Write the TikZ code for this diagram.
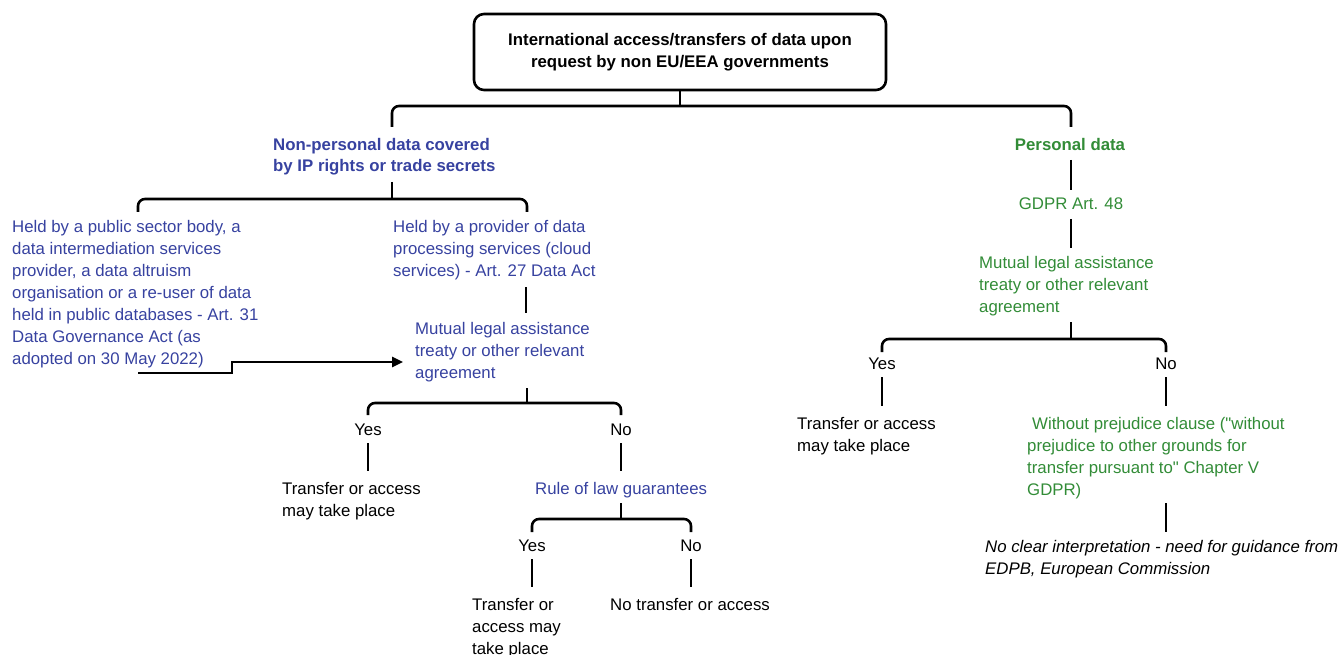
\documentclass[tikz,border=0pt]{standalone}
\usepackage{fontspec}
\setmainfont{Liberation Sans}
\usetikzlibrary{arrows.meta}
\definecolor{npblue}{RGB}{55,66,160}
\definecolor{pgreen}{RGB}{50,140,55}
\begin{document}
\begin{tikzpicture}[x=1pt,y=-1pt,
  txt/.style={inner sep=0pt, font=\fontsize{16.8}{22}\selectfont, align=left, anchor=north west},
  ctxt/.style={txt, anchor=north},
  npb/.style={text=npblue},
  pgr/.style={text=pgreen},
  bold/.style={font=\bfseries\fontsize{16.8}{21.5}\selectfont},
  ln/.style={line width=2.6pt},
  brk/.style={line width=2.6pt, rounded corners=7pt}]
\useasboundingbox (0,0) rectangle (1344,655);

% top box
\node[draw, line width=2.6pt, rounded corners=10pt, minimum width=412pt, minimum height=76pt,
      align=center, inner sep=0pt, font=\bfseries\fontsize{16.8}{21.5}\selectfont] (top) at (680,52)
  {International access/transfers of data upon\\request by non EU/EEA governments};

% text nodes, left branch
\node[txt, npb, bold] (np) at (273,138) {Non-personal data covered\\by IP rights or trade secrets};
\node[txt, npb] (held1) at (12,220) {Held by a public sector body, a\\data intermediation services\\provider, a data altruism\\organisation or a re-user of data\\held in public databases - Art. 31\\Data Governance Act (as\\adopted on 30 May 2022)};
\node[txt, npb] (held2) at (393,220) {Held by a provider of data\\processing services (cloud\\services) - Art. 27 Data Act};
\node[txt, npb] (mlaL) at (415,322) {Mutual legal assistance\\treaty or other relevant\\agreement};
\node[ctxt] (yesL) at (368,424) {Yes};
\node[ctxt] (noL) at (621,424) {No};
\node[txt] (tL) at (282,482) {Transfer or access\\may take place};
\node[txt, npb] (rol) at (535,482) {Rule of law guarantees};
\node[ctxt] (yes2) at (532,540) {Yes};
\node[ctxt] (no2) at (691,540) {No};
\node[txt] (t2) at (472,598) {Transfer or\\access may\\take place};
\node[txt] (nt) at (610,598) {No transfer or access};

% text nodes, right branch
\node[ctxt, pgr, bold] (pd) at (1070,138) {Personal data};
\node[ctxt, pgr] (gdpr) at (1071,198) {GDPR Art. 48};
\node[txt, pgr] (mlaR) at (979,256) {Mutual legal assistance\\treaty or other relevant\\agreement};
\node[ctxt] (yesR) at (882,358) {Yes};
\node[ctxt] (noR) at (1166,358) {No};
\node[txt] (tR) at (797,417) {Transfer or access\\may take place};
\node[txt, pgr] (wp) at (1027,417) {\hspace*{5pt}Without prejudice clause (\textquotedbl without\\prejudice to other grounds for\\transfer pursuant to\textquotedbl{} Chapter V\\GDPR)};
\node[txt, font=\itshape\fontsize{16.8}{22}\selectfont] (nc) at (985,540) {No clear interpretation - need for guidance from\\EDPB, European Commission};

% junction coordinates
\coordinate (j0) at (680,106);
\coordinate (npIn) at (392,127);
\coordinate (pdIn) at (1071,127);
\coordinate (npOut) at (392,182);
\coordinate (j1) at (392,199);
\coordinate (h1In) at (138,212);
\coordinate (h2In) at (527,212);
\coordinate (h2Out) at (526,287);
\coordinate (mlaLIn) at (526,313);
\coordinate (arrStart) at (138,373);
\coordinate (arrEnd) at (403,362);
\coordinate (mlaLOut) at (527,388);
\coordinate (j2) at (527,403);
\coordinate (yesLIn) at (368,415);
\coordinate (noLIn) at (621,415);
\coordinate (rolOut) at (621,503);
\coordinate (j3) at (621,519);
\coordinate (yes2In) at (532,532);
\coordinate (no2In) at (691,532);
\coordinate (pdOut) at (1071,160);
\coordinate (gdprIn) at (1071,190);
\coordinate (gdprOut) at (1071,219);
\coordinate (mlaRIn) at (1071,248);
\coordinate (mlaROut) at (1071,322);
\coordinate (j4) at (1071,339);
\coordinate (yesRIn) at (882,352);
\coordinate (noRIn) at (1166,352);
\coordinate (wpOut) at (1166,503);
\coordinate (ncIn) at (1166,532);

% connectors
\draw[ln] (top.south) -- (j0);
\draw[brk] (npIn) |- (j0) -| (pdIn);
\draw[ln] (npOut) -- (j1);
\draw[brk] (h1In) |- (j1) -| (h2In);
\draw[ln] (h2Out) -- (mlaLIn);
\draw[ln, -{Triangle[length=11pt,width=10pt]}] (arrStart) -- ++(94,0) |- (arrEnd);
\draw[ln] (mlaLOut) -- (j2);
\draw[brk] (yesLIn) |- (j2) -| (noLIn);
\draw[ln] (yesL.south) ++(0,7) -- ++(0,28);
\draw[ln] (noL.south) ++(0,7) -- ++(0,28);
\draw[ln] (rolOut) -- (j3);
\draw[brk] (yes2In) |- (j3) -| (no2In);
\draw[ln] (yes2.south) ++(0,7) -- ++(0,28);
\draw[ln] (no2.south) ++(0,7) -- ++(0,28);
\draw[ln] (pdOut) -- (gdprIn);
\draw[ln] (gdprOut) -- (mlaRIn);
\draw[ln] (mlaROut) -- (j4);
\draw[brk] (yesRIn) |- (j4) -| (noRIn);
\draw[ln] (yesR.south) ++(0,7) -- ++(0,29);
\draw[ln] (noR.south) ++(0,7) -- ++(0,29);
\draw[ln] (wpOut) -- (ncIn);
\end{tikzpicture}
\end{document}
